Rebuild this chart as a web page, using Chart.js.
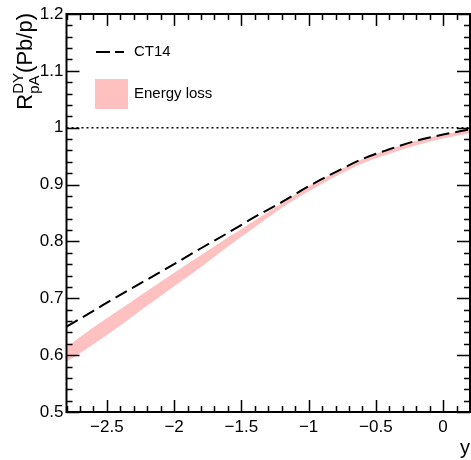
<!DOCTYPE html>
<html>
<head>
<meta charset="utf-8">
<script src="https://cdn.jsdelivr.net/npm/chart.js@4"></script>
<style>
  html, body { margin: 0; padding: 0; background: #fff; }
</style>
</head>
<body>
<canvas id="chart" width="471" height="460"></canvas>
<script>
// data
const rapidity  = [-2.8, -2.6, -2.4, -2.2, -2.0, -1.8, -1.6, -1.4, -1.2, -1.0, -0.8, -0.6, -0.4, -0.2, 0.0, 0.2];
const ct14      = [0.650, 0.678, 0.706, 0.733, 0.760, 0.788, 0.815, 0.843, 0.869, 0.897, 0.922, 0.945, 0.962, 0.977, 0.988, 0.997];
const elossLow  = [0.589, 0.620, 0.653, 0.688, 0.722, 0.756, 0.792, 0.826, 0.860, 0.889, 0.915, 0.938, 0.955, 0.970, 0.982, 0.991];
const elossHigh = [0.613, 0.648, 0.680, 0.712, 0.744, 0.775, 0.806, 0.836, 0.866, 0.896, 0.921, 0.944, 0.961, 0.976, 0.987, 0.996];
const unityX    = [-2.8, 0.2];
const unityY    = [1, 1];
const xTickValues = [-2.5, -2, -1.5, -1, -0.5, 0];
const yTickValues = [0.5, 0.6, 0.7, 0.8, 0.9, 1.0, 1.1, 1.2];

const bandColor = 'rgb(255, 192, 192)';
const fontFamily = "'Liberation Sans', Arial, Helvetica, sans-serif";

Chart.defaults.font.family = fontFamily;
Chart.defaults.font.size = 17;
Chart.defaults.color = '#000';

function pts(xs, ys) {
    return xs.map((x, i) => ({ x: x, y: ys[i] }));
}

function fmt(v) {
    return String(Math.round(v * 100) / 100).replace('-', '\u2212');
}

// ROOT-like frame: ticks inside on all four sides, titles, legend
const framePlugin = {
    id: 'frame',
    afterDraw(chart) {
        const ctx = chart.ctx;
        const a = chart.chartArea;
        const xs = chart.scales.x, ys = chart.scales.y;
        ctx.save();
        ctx.strokeStyle = '#000';

        // ticks
        ctx.lineWidth = 1.5;
        ctx.beginPath();
        for (let i = -28; i <= 2; i++) {
            const v = i / 10;
            const major = i % 5 === 0;
            const len = major ? 12 : 6;
            const px = Math.round(xs.getPixelForValue(v)) + 0.5;
            ctx.moveTo(px, a.bottom); ctx.lineTo(px, a.bottom - len);
            ctx.moveTo(px, a.top); ctx.lineTo(px, a.top + len);
        }
        for (let i = 25; i <= 60; i++) {
            const v = i / 50;
            const major = i % 5 === 0;
            const len = major ? 13 : 6;
            const py = Math.round(ys.getPixelForValue(v)) + 0.5;
            ctx.moveTo(a.left, py); ctx.lineTo(a.left + len, py);
            ctx.moveTo(a.right, py); ctx.lineTo(a.right - len, py);
        }
        ctx.stroke();

        // frame
        ctx.lineWidth = 2;
        ctx.strokeRect(a.left, a.top, a.right - a.left, a.bottom - a.top);

        // x title
        ctx.fillStyle = '#000';
        ctx.font = '20px ' + fontFamily;
        ctx.textAlign = 'right';
        ctx.textBaseline = 'alphabetic';
        ctx.fillText('y', 470, 454);

        // y title: R^{DY}_{pA}(Pb/p), rotated
        const big = '22px ' + fontFamily, small = '15px ' + fontFamily;
        ctx.font = big;
        const wR = ctx.measureText('R').width;
        const wP = ctx.measureText('(Pb/p)').width;
        ctx.font = small;
        const wS = Math.max(ctx.measureText('DY').width, ctx.measureText('pA').width);
        const total = wR + wS + wP;
        ctx.translate(32, a.top - 1);
        ctx.rotate(-Math.PI / 2);
        ctx.textAlign = 'left';
        let pos = -total;
        ctx.font = big;
        ctx.fillText('R', pos, 0);
        pos += wR;
        ctx.font = small;
        ctx.fillText('DY', pos, -9);
        ctx.fillText('pA', pos, 7);
        pos += wS;
        ctx.font = big;
        ctx.fillText('(Pb/p)', pos, 0);
        ctx.restore();

        // legend
        ctx.save();
        ctx.strokeStyle = '#000';
        ctx.lineWidth = 2;
        ctx.setLineDash([14, 5]);
        ctx.beginPath();
        ctx.moveTo(96, 52); ctx.lineTo(124, 52);
        ctx.stroke();
        ctx.setLineDash([]);
        ctx.fillStyle = bandColor;
        ctx.fillRect(95, 79, 33, 30);
        ctx.fillStyle = '#000';
        ctx.font = '15px ' + fontFamily;
        ctx.textAlign = 'left';
        ctx.textBaseline = 'middle';
        ctx.fillText('CT14', 134, 52);
        ctx.fillText('Energy loss', 134, 94);
        ctx.restore();
    }
};

const ctx = document.getElementById('chart').getContext('2d');
const chart = new Chart(ctx, {
    type: 'line',
    data: {
        datasets: [
            {
                label: 'CT14',
                data: pts(rapidity, ct14),
                borderColor: '#000',
                borderWidth: 2,
                borderDash: [13, 6],
                pointRadius: 0,
                fill: false,
                cubicInterpolationMode: 'monotone'
            },
            {
                label: 'unity',
                data: pts(unityX, unityY),
                borderColor: '#000',
                borderWidth: 1.5,
                borderDash: [2, 3],
                pointRadius: 0,
                fill: false
            },
            {
                label: 'Energy loss low',
                data: pts(rapidity, elossLow),
                borderColor: bandColor,
                borderWidth: 1,
                pointRadius: 0,
                fill: false,
                cubicInterpolationMode: 'monotone'
            },
            {
                label: 'Energy loss',
                data: pts(rapidity, elossHigh),
                borderColor: bandColor,
                backgroundColor: bandColor,
                borderWidth: 1,
                pointRadius: 0,
                fill: '-1',
                cubicInterpolationMode: 'monotone'
            }
        ]
    },
    options: {
        responsive: false,
        animation: false,
        layout: { padding: { left: 0, right: 1, top: 14, bottom: 0 } },
        plugins: {
            legend: { display: false },
            tooltip: { enabled: false }
        },
        scales: {
            x: {
                type: 'linear',
                min: -2.8,
                max: 0.2,
                grid: { display: false, drawTicks: false },
                border: { display: false },
                afterBuildTicks: function(scale) {
                    scale.ticks = xTickValues.map(v => ({ value: v }));
                },
                afterFit: function(scale) { scale.height = 48; },
                ticks: {
                    padding: 5,
                    maxRotation: 0,
                    autoSkip: false,
                    callback: function(v) { return fmt(v); }
                }
            },
            y: {
                type: 'linear',
                min: 0.5,
                max: 1.2,
                grid: { display: false, drawTicks: false },
                border: { display: false },
                afterBuildTicks: function(scale) {
                    scale.ticks = yTickValues.map(v => ({ value: v }));
                },
                afterFit: function(scale) { scale.width = 66.5; },
                ticks: {
                    padding: 3,
                    autoSkip: false,
                    callback: function(v) { return fmt(v); }
                }
            }
        }
    },
    plugins: [framePlugin]
});
</script>
</body>
</html>
